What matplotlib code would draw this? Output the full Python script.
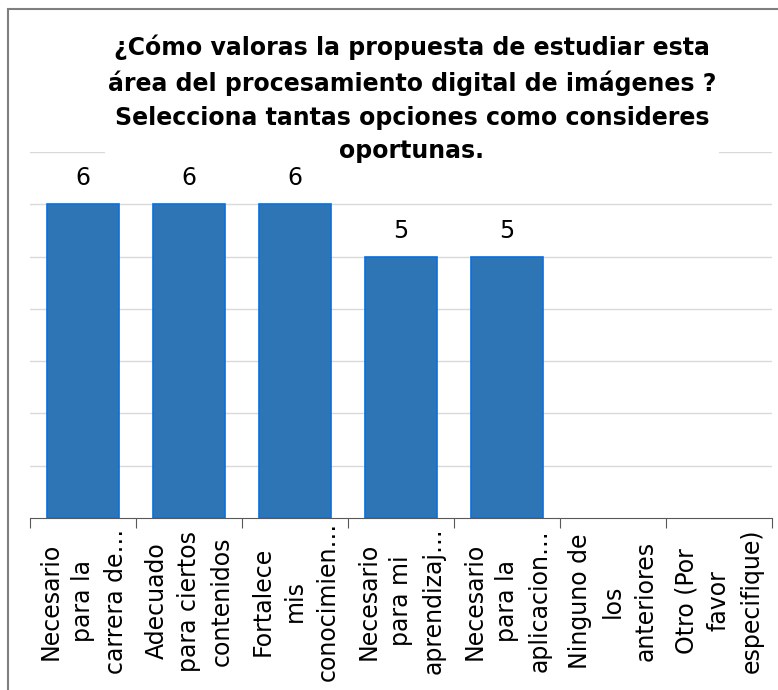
import matplotlib
matplotlib.use("Agg")
import matplotlib.pyplot as plt
from matplotlib.patches import Rectangle

categorias = [
    "Necesario\npara la\ncarrera de…",
    "Adecuado\npara ciertos\ncontenidos",
    "Fortalece\nmis\nconocimien…",
    "Necesario\npara mi\naprendizaj…",
    "Necesario\npara la\naplicacion…",
    "Ninguno de\nlos\nanteriores",
    "Otro (Por\nfavor\nespecifique)",
]
respuestas = [6, 6, 6, 5, 5, 0, 0]
etiquetas = ["6", "6", "6", "5", "5", "", ""]

titulo = ("¿Cómo valoras la propuesta de estudiar esta\n"
          "área del procesamiento digital de imágenes ?\n"
          "Selecciona tantas opciones como consideres\n"
          "oportunas.")

fig = plt.figure(figsize=(7.78, 6.90), dpi=100)
# marco gris del grafico
fig.patches.append(Rectangle((8 / 778, -0.1), 1.2, 1.1 - 9 / 690,
                             transform=fig.transFigure, fill=False,
                             edgecolor="#7f7f7f", linewidth=1.5))

ax = fig.add_axes([30 / 778, 1 - 518 / 690, 742 / 778, (518 - 152) / 690])
x = list(range(len(categorias)))
bordes = [1.2 if v else 0 for v in respuestas]
ax.bar(x, respuestas, width=0.68, color="#2e75b6", edgecolor="#0a6fdc",
       linewidth=bordes, zorder=3)
for xi, v, t in zip(x, respuestas, etiquetas):
    if t:
        ax.annotate(t, (xi, v), xytext=(0, 10), textcoords="offset points",
                    ha="center", va="bottom", fontsize=17, color="#000000")

ax.set_xlim(-0.5, len(categorias) - 0.5)
ax.set_ylim(0, 7)
ax.set_yticks(range(1, 8))
ax.yaxis.grid(True, color="#d9d9d9", linewidth=1, zorder=0)
ax.tick_params(axis="y", length=0, labelleft=False)
for s in ["left", "right", "top"]:
    ax.spines[s].set_visible(False)
ax.spines["bottom"].set_color("#595959")

ax.set_xticks([i - 0.5 for i in range(len(categorias) + 1)])
ax.set_xticklabels([])
ax.tick_params(axis="x", length=7, color="#595959")
# etiquetas de categoria giradas, centradas bajo cada barra
trans = matplotlib.transforms.blended_transform_factory(ax.transData, fig.transFigure)
for xi, c in zip(x, categorias):
    ax.text(xi, 1 - 601 / 690, c, rotation=90, ha="center", va="center",
            multialignment="center", fontsize=17, linespacing=1.45,
            transform=trans, clip_on=False)

fig.text(412 / 778, 1 - 99 / 690, titulo, ha="center", va="center", fontsize=17,
         fontweight="bold", linespacing=1.5,
         bbox=dict(facecolor="white", edgecolor="none", pad=2))

fig.savefig("out.png", dpi=100)
